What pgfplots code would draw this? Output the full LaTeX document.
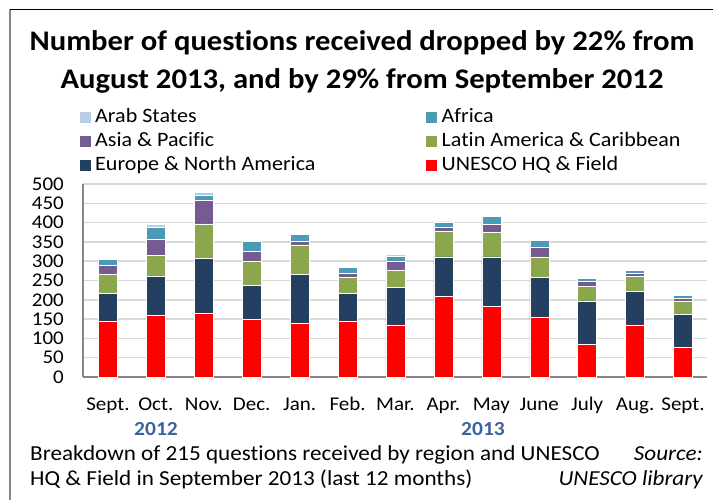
\documentclass[border=0pt]{standalone}
\usepackage{fontspec}
\setmainfont[Ligatures=NoCommon, FakeStretch=1.08]{Carlito}
\usepackage{pgfplots}
\pgfplotsset{compat=1.18}

\definecolor{arab}{HTML}{B9CDE5}
\definecolor{africa}{HTML}{4A9BB5}
\definecolor{asia}{HTML}{765A92}
\definecolor{latam}{HTML}{8CA64E}
\definecolor{europe}{HTML}{243F60}
\definecolor{hq}{HTML}{FF0000}
\definecolor{yearblue}{HTML}{3A64A0}
\definecolor{gridgray}{HTML}{D9D9D9}
\definecolor{axisgray}{HTML}{868686}

% month index, then one column per region (stacked bottom to top)
\pgfplotstableread{
x  hq  europe latam asia africa arab
0  145 71  49 25 15 1
1  160 100 55 43 29 8
2  164 144 89 60 15 6
3  149 89  61 26 26 2
4  138 128 76 10 17 4
5  145 71  43 9  16 3
6  135 98  44 22 13 6
7  209 102 67 10 14 2
8  183 128 64 20 21 1
9  155 103 53 26 16 4
10 84  113 37 13 8  4
11 135 86  39 8  8  2
12 76  86  33 8  8  4
}\monthly

\begin{document}
\begin{tikzpicture}[x=1bp,y=1bp]
\useasboundingbox (0,0) rectangle (713,500);
% frame of the chart area
\draw[axisgray, line width=1.2bp] (10,0) -- (10,490.5);
\draw[black, line width=1bp] (10,490.5) -- (713,490.5);

\node[anchor=base, font=\fontsize{28.5}{32}\selectfont\bfseries] at (362,449) {Number of questions received dropped by 22\% from};
\node[anchor=base, font=\fontsize{28.5}{32}\selectfont\bfseries] at (362,411) {August 2013, and by 29\% from September 2012};

\begin{axis}[
  at={(83bp,123bp)}, anchor=south west,
  scale only axis, width=624bp, height=193bp,
  ybar stacked, bar width=19bp,
  xmin=-0.52, xmax=12.5, ymin=0, ymax=500,
  ytick={0,50,...,500},
  xtick={0,...,12},
  xticklabels={Sept.,Oct.,Nov.,Dec.,Jan.,Feb.,Mar.,Apr.,May,June,July,Aug.,Sept.},
  major tick length=0pt,
  axis x line*=bottom, axis y line*=left,
  axis line style={axisgray, line width=1.5bp},
  ymajorgrids, major grid style={gridgray, line width=1.5bp},
  /pgf/number format/assume math mode=true,
  yticklabel style={font=\fontsize{19.5}{23}\selectfont, inner sep=0pt, xshift=-19bp},
  xticklabel style={font=\fontsize{19.5}{23}\selectfont, anchor=base, yshift=-34bp},
  legend columns=2, reverse legend,
  legend style={at={(rel axis cs:-0.012,1.42)}, anchor=north west, draw=none, fill=none,
    font=\fontsize{20.5}{24}\selectfont, row sep=0pt, column sep=0pt,
    nodes={text height=15bp, text depth=5bp, inner sep=2bp}},
  legend cell align=left,
  legend image code/.code={\fill[#1] (0bp,-6bp) rectangle (12bp,6bp); \path (14bp,0bp);},
  every axis plot/.append style={draw=white, line width=0.5bp},
  clip=false,
]
\addplot[fill=hq] table[x=x, y=hq] {\monthly};
\addlegendentry{UNESCO HQ \& Field}
\addplot[fill=europe] table[x=x, y=europe] {\monthly};
\addlegendentry{\makebox[328bp][l]{Europe \& North America}}
\addplot[fill=latam] table[x=x, y=latam] {\monthly};
\addlegendentry{Latin America \& Caribbean}
\addplot[fill=asia] table[x=x, y=asia] {\monthly};
\addlegendentry{\makebox[328bp][l]{Asia \& Pacific}}
\addplot[fill=africa] table[x=x, y=africa] {\monthly};
\addlegendentry{Africa}
\addplot[fill=arab] table[x=x, y=arab] {\monthly};
\addlegendentry{\makebox[328bp][l]{Arab States}}
\end{axis}

\node[anchor=base, font=\fontsize{20}{24}\selectfont\bfseries, text=yearblue] at (156,64) {2012};
\node[anchor=base, font=\fontsize{20}{24}\selectfont\bfseries, text=yearblue] at (483,64) {2013};

\node[anchor=base west, inner sep=0pt, font=\fontsize{21.5}{24}\selectfont] at (30,39) {Breakdown of 215 questions received by region and UNESCO};
\node[anchor=base west, inner sep=0pt, font=\fontsize{21.5}{24}\selectfont] at (30,14) {HQ \& Field in September 2013 (last 12 months)};
\node[anchor=base east, inner sep=0pt, font=\fontsize{21.5}{24}\selectfont\itshape] at (703,39) {Source:};
\node[anchor=base east, inner sep=0pt, font=\fontsize{21.5}{24}\selectfont\itshape] at (703,14) {UNESCO library};
\end{tikzpicture}
\end{document}
